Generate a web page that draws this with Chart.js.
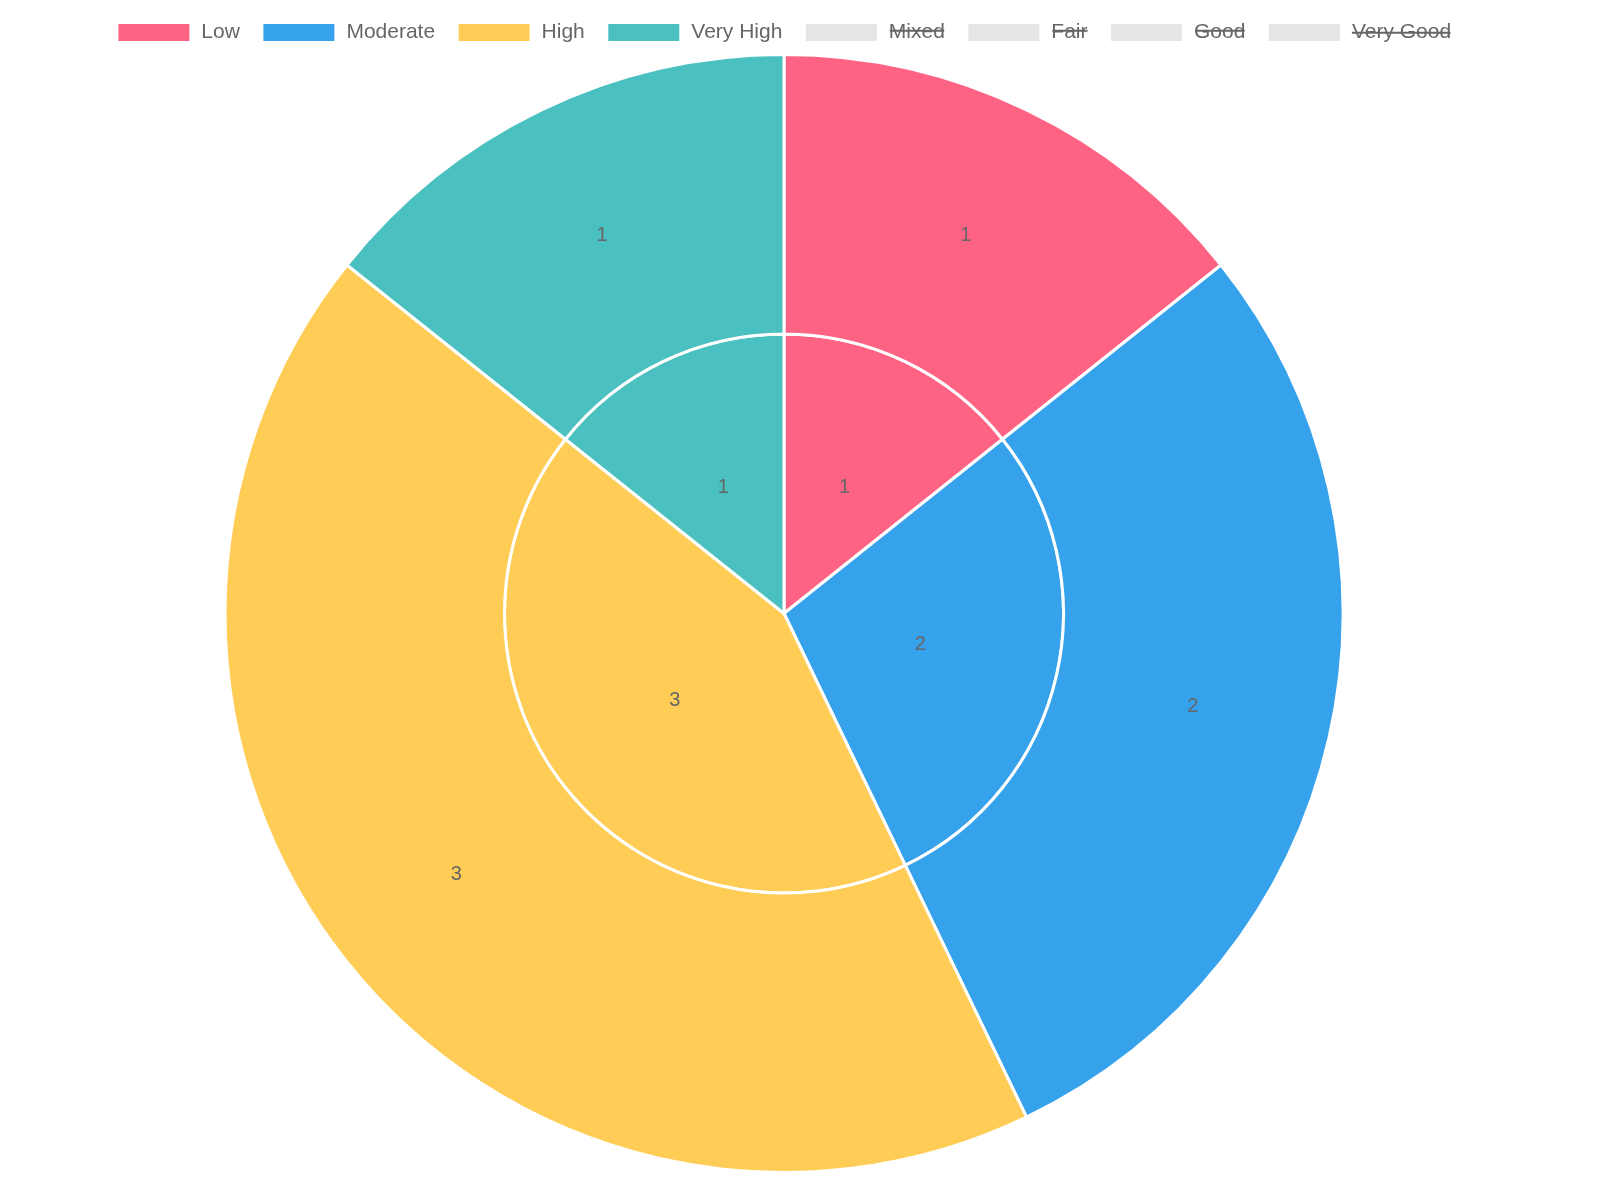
<!DOCTYPE html>
<html>
<head>
<meta charset="utf-8">
<script src="https://cdn.jsdelivr.net/npm/chart.js@4"></script>
<style>
  body { margin: 0; background: #fff; font-family: "Liberation Sans", Arial, sans-serif; }
  #wrap { position: absolute; left: 0; top: 0; width: 1568px; height: 1180px; }
</style>
</head>
<body>
<div id="wrap"><canvas id="chart"></canvas></div>
<script>
const labels = ["Low", "Moderate", "High", "Very High", "Mixed", "Fair", "Good", "Very Good"];
const outerValues = [1, 2, 3, 1, 1, 1, 1, 1];
const innerValues = [1, 2, 3, 1, 1, 1, 1, 1];
const colors = ["#ff6384", "#36a2eb", "#ffcd56", "#4bc0c0", "#e5e5e5", "#e5e5e5", "#e5e5e5", "#e5e5e5"];
const hiddenIdx = [4, 5, 6, 7];

// draw each visible slice value at its centroid
const valueLabels = {
  id: "valueLabels",
  afterDatasetsDraw(chart) {
    const ctx = chart.ctx;
    ctx.save();
    ctx.font = "20px 'Liberation Sans', Arial, sans-serif";
    ctx.fillStyle = "#666";
    ctx.textAlign = "center";
    ctx.textBaseline = "middle";
    chart.data.datasets.forEach((ds, i) => {
      chart.getDatasetMeta(i).data.forEach((arc, j) => {
        if (!chart.getDataVisibility(j)) return;
        const p = arc.tooltipPosition();
        ctx.fillText(ds.data[j], p.x, p.y);
      });
    });
    ctx.restore();
  }
};

const chart = new Chart(document.getElementById("chart"), {
  type: "pie",
  data: {
    labels: labels,
    datasets: [
      { label: "Outer", data: outerValues, backgroundColor: colors, borderColor: "#fff", borderWidth: 3 },
      { label: "Inner", data: innerValues, backgroundColor: colors, borderColor: "#fff", borderWidth: 3 }
    ]
  },
  options: {
    responsive: true,
    maintainAspectRatio: false,
    animation: false,
    layout: { padding: { bottom: 6 } },
    plugins: {
      tooltip: { enabled: false },
      legend: {
        position: "top",
        labels: {
          boxWidth: 74,
          boxHeight: 20,
          padding: 22,
          color: "#666",
          font: { size: 21, family: "'Liberation Sans', Arial, sans-serif" }
        }
      }
    }
  },
  plugins: [valueLabels]
});
hiddenIdx.forEach(i => chart.toggleDataVisibility(i));
chart.update();
</script>
</body>
</html>
